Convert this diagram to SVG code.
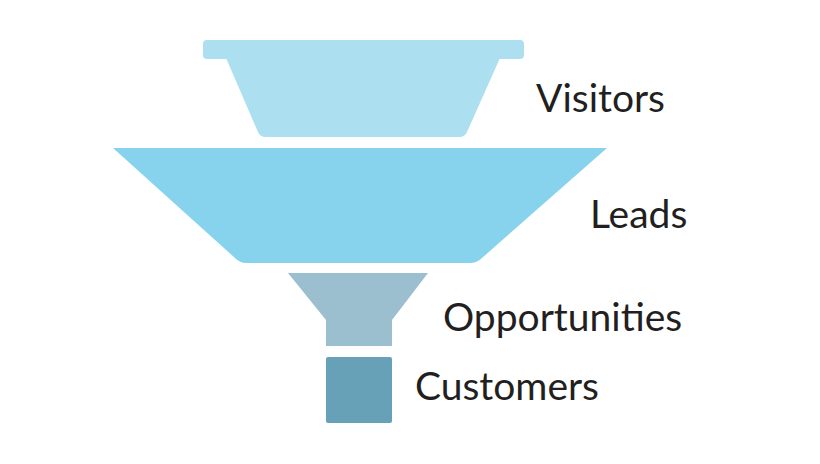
<svg xmlns="http://www.w3.org/2000/svg" width="820" height="464" viewBox="0 0 820 464">
<style>
.t{font-family:Lato,"Open Sans",sans-serif;font-size:39px;fill:#231f20}
</style>
<rect width="820" height="464" fill="#fff"/>
<g id="visitors">
<rect x="203" y="40" width="321" height="19" rx="4" fill="#acdff0"/>
<path d="M226,58 L500,58 L467,132 Q465,137 459,137 L266,137 Q260,137 258,132 Z" fill="#acdff0"/>
<text class="t" x="536" y="112">Visitors</text>
</g>
<g id="leads">
<path d="M113,148 L607,148 L482,258 Q477,263 470,263 L246,263 Q240,263 235,258 Z" fill="#87d3ee"/>
<text class="t" x="590" y="228">Leads</text>
</g>
<g id="opportunities">
<path d="M288,273 L428,273 L392,320 L392,346 L326,346 L326,320 Z" fill="#9bbfcf"/>
<text class="t" x="443" y="331">Opportunities</text>
</g>
<g id="customers">
<rect x="326" y="357" width="66" height="66" rx="2" fill="#67a1b8"/>
<text class="t" x="415" y="400">Customers</text>
</g>
<g id="connectors"/>
</svg>
